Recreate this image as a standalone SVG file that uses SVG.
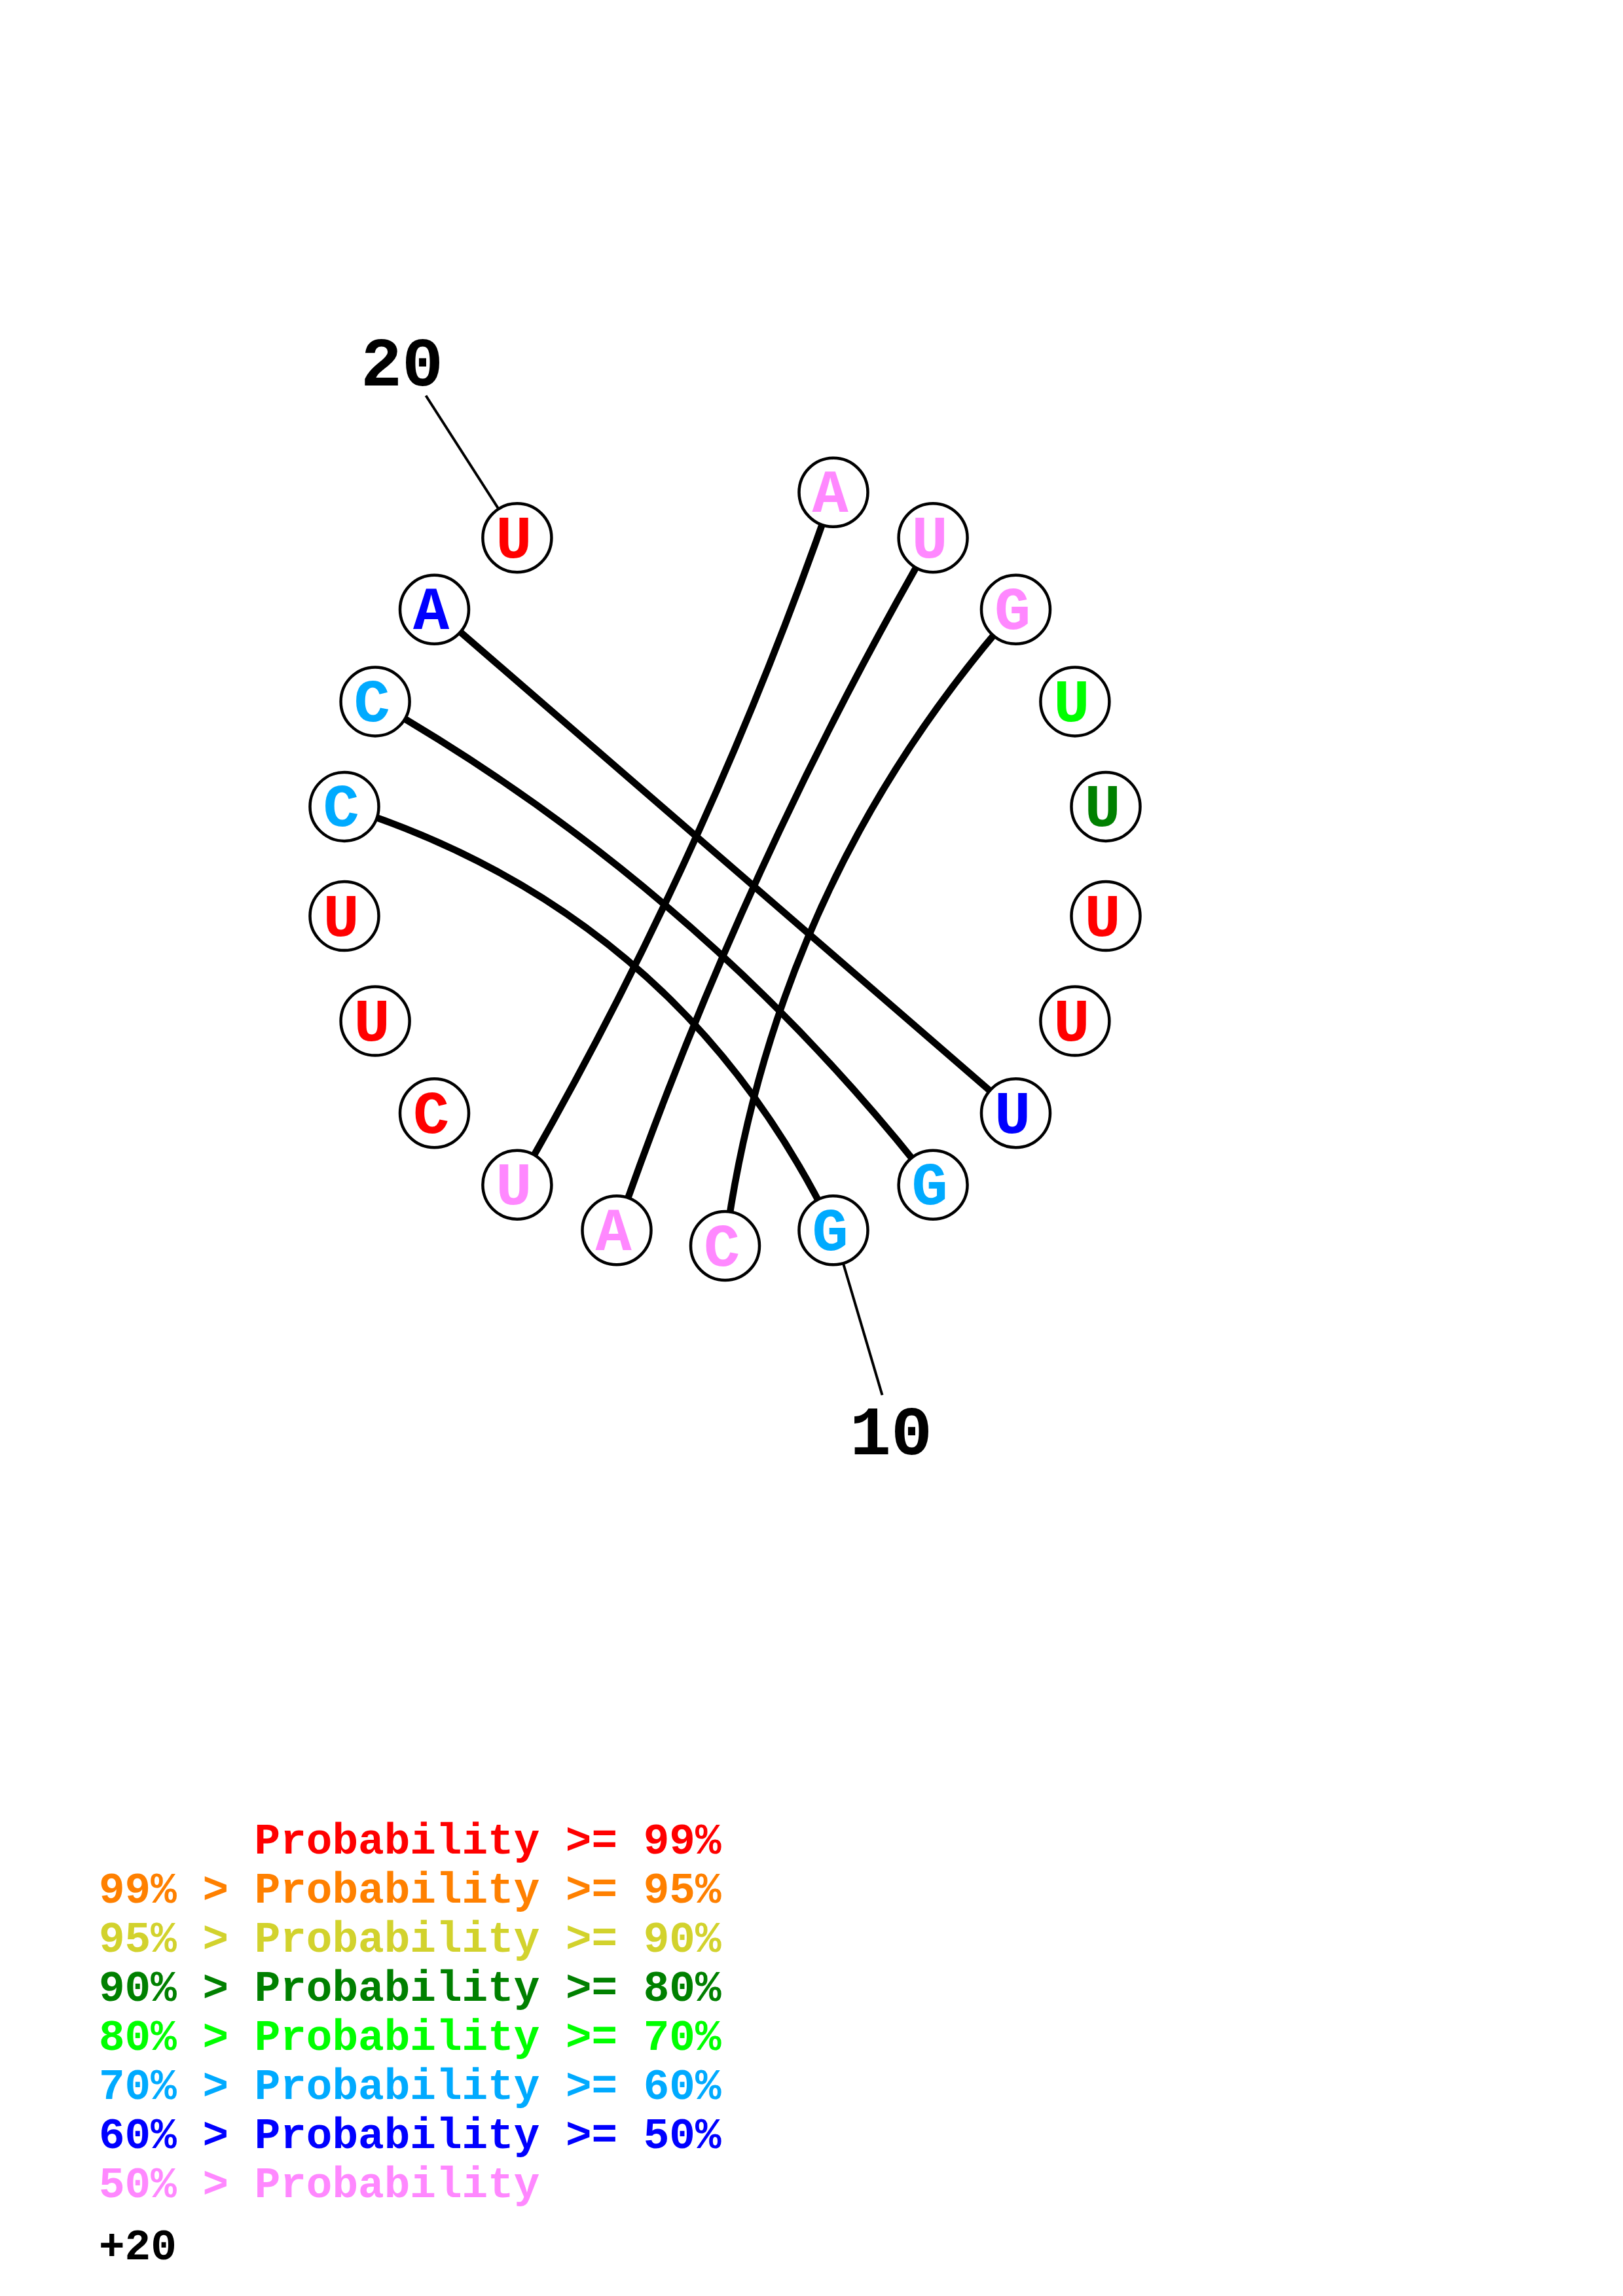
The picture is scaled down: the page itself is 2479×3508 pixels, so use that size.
<svg xmlns="http://www.w3.org/2000/svg" width="2479" height="3508" viewBox="0 0 2479 3508">
<style>
  .bg{fill:#FFFFFF}
  .node circle{fill:#FFFFFF;stroke:#000000;stroke-width:4.5}
  .node text{font-family:"Liberation Mono","DejaVu Sans Mono",monospace;font-weight:bold;font-size:92px;text-anchor:middle}
  .pair{fill:none;stroke:#000000;stroke-width:10.5}
  .tick{fill:none;stroke:#000000;stroke-width:4}
  .num{font-family:"Liberation Mono","DejaVu Sans Mono",monospace;font-weight:bold;font-size:105px;text-anchor:middle;fill:#000000}
  .leg{font-family:"Liberation Mono","DejaVu Sans Mono",monospace;font-weight:bold;font-size:66px}
  .red{fill:#FF0000}
  .orange{fill:#FF8000}
  .yellow{fill:#D2D22D}
  .dgreen{fill:#008000}
  .green{fill:#00FF00}
  .lblue{fill:#00AAFF}
  .blue{fill:#0000FF}
  .pink{fill:#FF88FF}
  .black{fill:#000000}
</style>
<rect class="bg" x="0" y="0" width="2479" height="3508"/>

<g id="connectors">
  <path class="pair" d="M1273.0,752.3 Q1082.15,1304.42 789.9,1810.2"/>
  <path class="pair" d="M1425.1,821.8 Q1132.85,1327.58 942.0,1879.7"/>
  <path class="pair" d="M1551.5,931.3 Q1181.5,1349.8 1107.5,1903.5"/>
  <path class="pair" d="M1551.5,1700.7 L663.5,931.3"/>
  <path class="pair" d="M1425.1,1810.2 Q1071.37,1357.68 573.1,1071.9"/>
  <path class="pair" d="M1273.0,1879.7 Q1038.17,1396.02 526.0,1232.4"/>
</g>

<g id="numbering">
  <line class="tick" x1="789.9" y1="821.8" x2="650.5" y2="604.5"/>
  <text class="num" x="614" y="589">20</text>
  <line class="tick" x1="1273.0" y1="1879.7" x2="1347.5" y2="2131.5"/>
  <text class="num" x="1361" y="2222">10</text>
</g>

<g id="n1" class="node"><circle cx="1273.0" cy="752.3" r="52.5"/><text class="pink" x="1268.0" y="782.3">A</text></g>
<g id="n2" class="node"><circle cx="1425.1" cy="821.8" r="52.5"/><text class="pink" x="1420.1" y="851.8">U</text></g>
<g id="n3" class="node"><circle cx="1551.5" cy="931.3" r="52.5"/><text class="pink" x="1546.5" y="961.3">G</text></g>
<g id="n4" class="node"><circle cx="1641.9" cy="1071.9" r="52.5"/><text class="green" x="1636.9" y="1101.9">U</text></g>
<g id="n5" class="node"><circle cx="1689.0" cy="1232.4" r="52.5"/><text class="dgreen" x="1684.0" y="1262.4">U</text></g>
<g id="n6" class="node"><circle cx="1689.0" cy="1399.6" r="52.5"/><text class="red" x="1684.0" y="1429.6">U</text></g>
<g id="n7" class="node"><circle cx="1641.9" cy="1560.1" r="52.5"/><text class="red" x="1636.9" y="1590.1">U</text></g>
<g id="n8" class="node"><circle cx="1551.5" cy="1700.7" r="52.5"/><text class="blue" x="1546.5" y="1730.7">U</text></g>
<g id="n9" class="node"><circle cx="1425.1" cy="1810.2" r="52.5"/><text class="lblue" x="1420.1" y="1840.2">G</text></g>
<g id="n10" class="node"><circle cx="1273.0" cy="1879.7" r="52.5"/><text class="lblue" x="1268.0" y="1909.7">G</text></g>
<g id="n11" class="node"><circle cx="1107.5" cy="1903.5" r="52.5"/><text class="pink" x="1102.5" y="1933.5">C</text></g>
<g id="n12" class="node"><circle cx="942.0" cy="1879.7" r="52.5"/><text class="pink" x="937.0" y="1909.7">A</text></g>
<g id="n13" class="node"><circle cx="789.9" cy="1810.2" r="52.5"/><text class="pink" x="784.9" y="1840.2">U</text></g>
<g id="n14" class="node"><circle cx="663.5" cy="1700.7" r="52.5"/><text class="red" x="658.5" y="1730.7">C</text></g>
<g id="n15" class="node"><circle cx="573.1" cy="1560.1" r="52.5"/><text class="red" x="568.1" y="1590.1">U</text></g>
<g id="n16" class="node"><circle cx="526.0" cy="1399.6" r="52.5"/><text class="red" x="521.0" y="1429.6">U</text></g>
<g id="n17" class="node"><circle cx="526.0" cy="1232.4" r="52.5"/><text class="lblue" x="521.0" y="1262.4">C</text></g>
<g id="n18" class="node"><circle cx="573.1" cy="1071.9" r="52.5"/><text class="lblue" x="568.1" y="1101.9">C</text></g>
<g id="n19" class="node"><circle cx="663.5" cy="931.3" r="52.5"/><text class="blue" x="658.5" y="961.3">A</text></g>
<g id="n20" class="node"><circle cx="789.9" cy="821.8" r="52.5"/><text class="red" x="784.9" y="851.8">U</text></g>

<g id="legend" class="leg">
  <text class="red" x="388.6" y="2832">Probability &gt;= 99%</text>
  <text class="orange" x="151" y="2907">99% &gt; Probability &gt;= 95%</text>
  <text class="yellow" x="151" y="2982">95% &gt; Probability &gt;= 90%</text>
  <text class="dgreen" x="151" y="3057">90% &gt; Probability &gt;= 80%</text>
  <text class="green" x="151" y="3132">80% &gt; Probability &gt;= 70%</text>
  <text class="lblue" x="151" y="3207">70% &gt; Probability &gt;= 60%</text>
  <text class="blue" x="151" y="3282">60% &gt; Probability &gt;= 50%</text>
  <text class="pink" x="151" y="3357">50% &gt; Probability</text>
  <text class="black" x="151" y="3452">+20</text>
</g>
</svg>
